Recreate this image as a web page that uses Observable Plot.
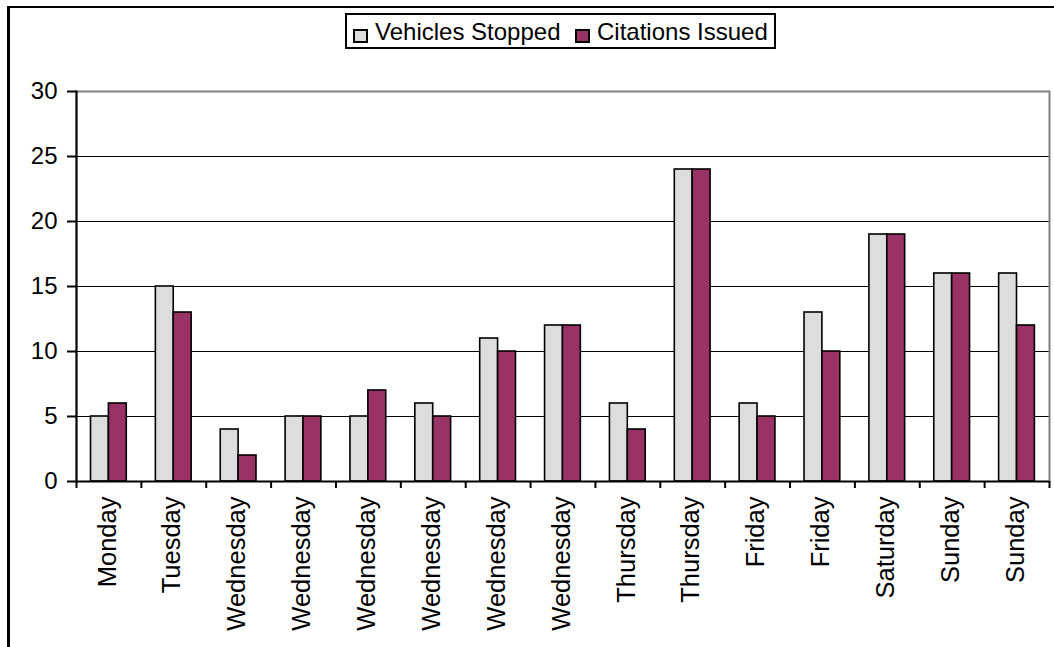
<!DOCTYPE html>
<html>
<head>
<meta charset="utf-8">
<script src="https://cdn.jsdelivr.net/npm/d3@7"></script>
<script src="https://cdn.jsdelivr.net/npm/@observablehq/plot@0.6"></script>
<style>
  html, body { margin: 0; padding: 0; background: #fff; overflow: hidden; }
  body { width: 1054px; height: 647px; position: relative; font-family: "Liberation Sans", Arial, sans-serif; }
  #frame { position: absolute; left: 7px; top: 6px; width: 2000px; height: 2000px; border-left: 3px solid #000; border-top: 2.5px solid #000; box-sizing: border-box; pointer-events: none; }
  #chart { position: absolute; left: 0; top: 0; }
  #legend { position: absolute; left: 345px; top: 13px; width: 431px; height: 36px; border: 2.5px solid #000; box-sizing: border-box; background: #fff; }
  .sw { position: absolute; top: 14px; width: 15px; height: 14px; border: 2px solid #000; box-sizing: border-box; }
  .lt { position: absolute; top: 3px; font-size: 24px; line-height: 28px; color: #000; white-space: nowrap; }
</style>
</head>
<body>
<div id="chart"></div>
<div id="frame"></div>
<div id="legend"></div>
<script>
const days = ["Monday","Tuesday","Wednesday","Wednesday","Wednesday","Wednesday","Wednesday","Wednesday","Thursday","Thursday","Friday","Friday","Saturday","Sunday","Sunday"];
const vehiclesStopped = [5,15,4,5,5,6,11,12,6,24,6,13,19,16,16];
const citationsIssued = [6,13,2,5,7,5,10,12,4,24,5,10,19,16,12];
const seriesNames = ["Vehicles Stopped","Citations Issued"];
const seriesColors = ["#dddddd","#993366"];
const yTicks = [0,5,10,15,20,25,30];

const W = 1054, H = 647;
const mL = 76, mR = 5, mT = 91, mB = 166;
const bw = (W - mL - mR) / days.length;
const keys = days.map((d, i) => String(i));

const plot = Plot.plot({
  width: W,
  height: H,
  marginLeft: mL,
  marginRight: mR,
  marginTop: mT,
  marginBottom: mB,
  style: {fontFamily: '"Liberation Sans", Arial, sans-serif', fontSize: "24px", color: "#000", background: "transparent"},
  x: {domain: keys, padding: 0, round: false, axis: null},
  y: {domain: [0, 30], axis: null},
  marks: [
    Plot.ruleY(yTicks.filter(t => t > 0 && t < 30), {stroke: "#000", strokeWidth: 1}),
    Plot.ruleY([30], {stroke: "#808080", strokeWidth: 2}),
    Plot.frame({anchor: "right", stroke: "#808080", strokeWidth: 2}),
    Plot.barY(vehiclesStopped, {x: (d, i) => keys[i], y: d => d, fill: seriesColors[0], stroke: "#000", strokeWidth: 1.6, insetLeft: 14.5, insetRight: 32.5}),
    Plot.barY(citationsIssued, {x: (d, i) => keys[i], y: d => d, fill: seriesColors[1], stroke: "#000", strokeWidth: 1.6, insetLeft: 32.4, insetRight: 14.6}),
    Plot.ruleY([0], {stroke: "#000", strokeWidth: 2.2}),
    Plot.frame({anchor: "left", stroke: "#000", strokeWidth: 2.2}),
    Plot.ruleX(keys, {x: d => d, y1: 0, y2: 0, insetBottom: -7, dx: -bw / 2, stroke: "#000", strokeWidth: 2}),
    Plot.ruleX([keys[keys.length - 1]], {x: d => d, y1: 0, y2: 0, insetBottom: -7, dx: bw / 2, stroke: "#000", strokeWidth: 2}),
    Plot.axisY({ticks: yTicks, tickSize: 9, tickPadding: 10, tickFormat: d => String(d), stroke: "#000", strokeWidth: 2, fontSize: 24, fill: "#000"}),
    Plot.axisX({tickSize: 0, tickPadding: 15, tickRotate: -90, tickFormat: k => days[+k], fontSize: 25.5, fill: "#000", dx: -1.5})
  ]
});
document.getElementById("chart").appendChild(plot);

const legend = document.getElementById("legend");
const items = [
  {sw: 6, tx: 28},
  {sw: 228, tx: 250}
];
seriesNames.forEach((name, i) => {
  const s = document.createElement("div");
  s.className = "sw";
  s.style.left = items[i].sw + "px";
  s.style.background = seriesColors[i];
  legend.appendChild(s);
  const t = document.createElement("div");
  t.className = "lt";
  t.style.left = items[i].tx + "px";
  t.textContent = name;
  legend.appendChild(t);
});
</script>
</body>
</html>
